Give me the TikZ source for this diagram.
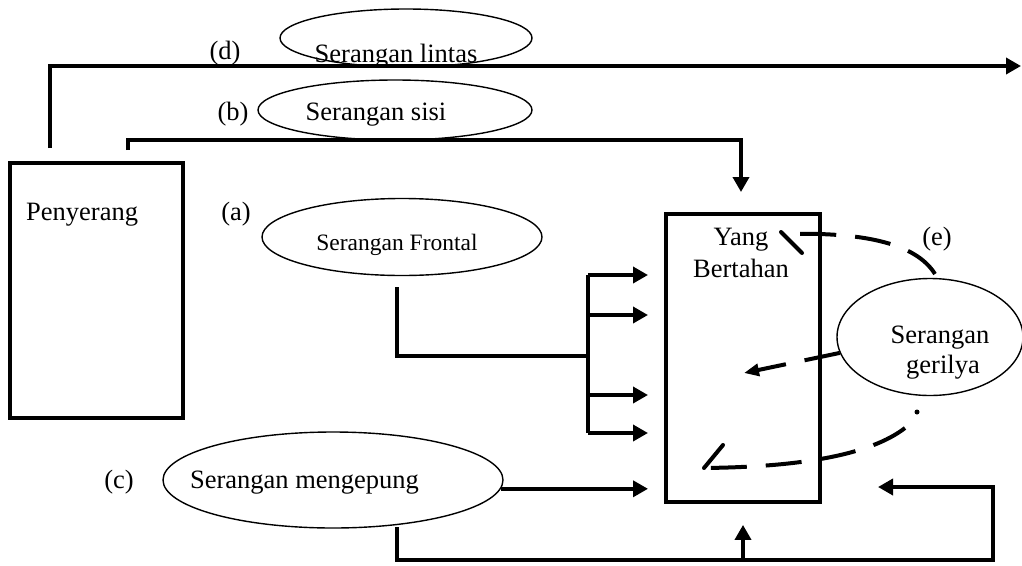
\documentclass[tikz,border=0pt]{standalone}
\usepackage{fontspec}
\setmainfont{Liberation Serif}
\usetikzlibrary{arrows.meta,calc,shapes.geometric}
\begin{document}
\begin{tikzpicture}[x=1pt,y=-1pt,
  font=\fontsize{26.5}{30}\selectfont,
  txt/.style={inner sep=0pt, anchor=base},
  oval/.style={draw, ellipse, line width=1.4pt, inner sep=0pt},
  box/.style={draw, rectangle, line width=3.8pt, inner sep=0pt},
  conn/.style={line width=3.6pt},
  tip/.style={-{Triangle[length=15pt,width=16pt]}},
  dashline/.style={line width=4pt, dash pattern=on 36pt off 19pt},
  barb/.style={line width=4pt, line cap=round},
]
\useasboundingbox (0,0) rectangle (1022,565);

% the two parties
\node[box, minimum width=173pt, minimum height=255pt] (pen) at (96.5,290.5) {};
\node[box, minimum width=154pt, minimum height=288pt] (yb) at (743,358) {};
\node[txt, anchor=base west] (pentxt) at (26,220) {Penyerang};
\node[txt] (ybtxt1) at (741,245) {Yang};
\node[txt] (ybtxt2) at (741,277) {Bertahan};

% kinds of attack
\node[oval, minimum width=252pt, minimum height=58pt] (lintas) at (406,38) {};
\node[txt] (lintastxt) at (396,62) {Serangan lintas};
\node[oval, minimum width=274pt, minimum height=60pt] (sisi) at (395,110) {};
\node[txt] (sisitxt) at (376,120) {Serangan sisi};
\node[oval, minimum width=280pt, minimum height=77pt] (frontal) at (402,237) {};
\node[txt, font=\fontsize{23.5}{28}\selectfont] (frontaltxt) at (397,250) {Serangan Frontal};
\node[oval, minimum width=340pt, minimum height=96pt] (kepung) at (333,480) {};
\node[txt] (kepungtxt) at (304.5,488) {Serangan mengepung};
\node[oval, minimum width=186pt, minimum height=117pt] (gerilya) at (930,337) {};
\node[txt] (gerilyatxt1) at (940,343) {Serangan};
\node[txt] (gerilyatxt2) at (943,373) {gerilya};

% letters
\node[txt] (la) at (236,220) {(a)};
\node[txt] (lb) at (233,120) {(b)};
\node[txt] (lc) at (119,488) {(c)};
\node[txt] (ld) at (225,59) {(d)};
\node[txt] (le) at (937,245) {(e)};

% (d) bypass
\coordinate (d0) at (50,148);
\coordinate (d1) at (1021,66);
\draw[conn,tip] (d0) |- (d1);

% (b) flank
\coordinate (b0) at (128,150);
\coordinate (b1) at (741,140);
\coordinate (b2) at (741,192);
\draw[conn,tip] (b0) |- (b1) -- (b2);

% (a) frontal, split into four arrows
\coordinate (f0) at (397,287);
\coordinate (f1) at (588,356);
\coordinate (bt) at (588,275);
\coordinate (bb) at (588,433);
\draw[conn] (f0) |- (f1);
\draw[conn] (bt) -- (bb);
\foreach \y [count=\i] in {275,315,395,433} {
  \coordinate (s\i) at (588,\y);
  \coordinate (e\i) at (648,\y);
  \draw[conn,tip] (s\i) -- (e\i);
}

% (c) encirclement
\coordinate (e5) at (648,488);
\draw[conn,tip] (kepung.-3) -- (kepung.-3 -| e5);
\coordinate (k0) at (397,527);
\coordinate (k1) at (397,560);
\coordinate (k2) at (993,560);
\coordinate (k3) at (878,487);
\draw[conn,tip] (k0) -- (k1) -- (k2) |- (k3);
\coordinate (k4) at ($(yb.south)+(0,21)$);
\draw[conn,tip] (yb.south |- k1) -- (k4);

% (e) guerrilla
\draw[dashline] (935,274) .. controls (915,242) and (860,232) .. (784,234);
\draw[barb] (781,232) -- (802,253);
\coordinate (g1) at (744,373);
\draw[dashline,-{Triangle[length=15pt,width=12pt]}] (gerilya.190) -- (g1);
\fill (917,412) circle[radius=2.5];
\draw[dashline] (905,428) .. controls (870,455) and (800,467) .. (704,468);
\draw[barb] (704,468) -- (723,445);
\end{tikzpicture}
\end{document}
